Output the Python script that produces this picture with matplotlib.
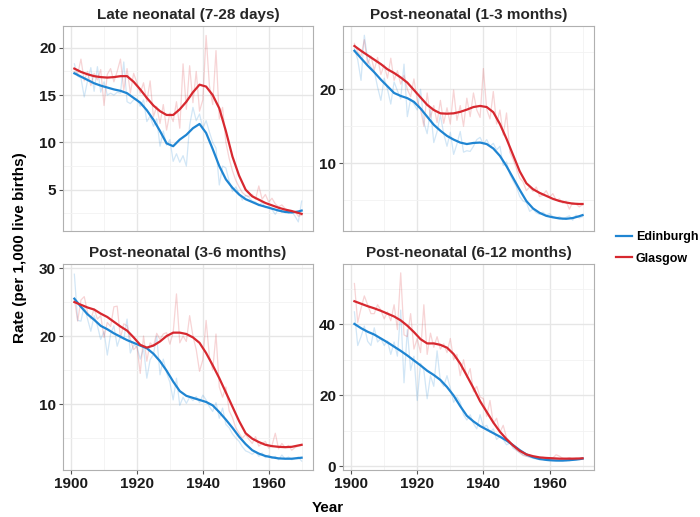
import numpy as np
import matplotlib.pyplot as plt
from matplotlib.ticker import MultipleLocator

plt.rcParams['font.family'] = ['Liberation Sans', 'DejaVu Sans']
plt.rcParams['font.weight'] = 'bold'

# Annual rates per 1,000 live births
years = np.arange(1901, 1971)
# Years at which the fitted (smoothed) trend was read
smooth_years = np.append(np.arange(1901, 1970, 2), 1970)

late_edin = [18.3, 17.0, 16.8, 14.8, 16.5, 17.9, 15.4, 18.0, 15.3, 16.4,
             15.0, 15.2, 15.0, 15.3, 15.2, 18.5, 14.3, 14.1, 14.5, 14.6,
             13.8, 14.5, 12.2, 12.8, 11.7, 12.5, 9.6, 11.2, 9.7, 10.3,
             8.0, 8.8, 7.9, 8.6, 7.5, 11.8, 13.7, 12.3, 13.0, 11.5,
             12.3, 11.1, 10.0, 9.4, 5.5, 7.5, 7.3, 5.9, 4.8, 5.3,
             4.6, 3.9, 4.4, 4.2, 3.8, 3.7, 3.3, 3.7, 3.1, 3.3,
             2.9, 2.4, 3.0, 2.6, 2.9, 2.5, 2.7, 2.2, 1.6, 3.8]
late_glas = [17.5, 17.2, 18.8, 16.5, 17.5, 16.0, 17.3, 16.6, 17.7, 13.9,
             17.2, 17.8, 16.4, 17.5, 18.8, 15.5, 17.8, 15.2, 17.3, 16.3,
             15.2, 16.3, 14.3, 16.5, 12.7, 13.8, 12.0, 14.0, 11.3, 13.1,
             12.2, 14.3, 11.5, 18.3, 13.5, 18.1, 14.2, 17.5, 13.3, 14.5,
             21.3, 16.0, 14.0, 19.7, 12.5, 13.7, 10.0, 8.3, 7.0, 6.0,
             5.3, 4.7, 4.4, 4.3, 4.5, 4.0, 5.4, 4.0, 4.5, 3.7,
             4.1, 3.5, 3.2, 3.4, 3.0, 2.8, 2.6, 2.7, 2.2, 2.3]
late_edin_fit = [17.3, 16.95, 16.6, 16.25, 16.0, 15.8, 15.6, 15.45, 15.2, 14.7, 14.2, 13.4,
                 12.4, 11.2, 9.9, 9.6, 10.3, 10.8, 11.5, 11.95, 11.0, 9.3, 7.5, 6.1,
                 5.2, 4.5, 4.0, 3.7, 3.4, 3.2, 3.0, 2.8, 2.65, 2.6, 2.7, 2.8]
late_glas_fit = [17.8, 17.45, 17.2, 17.0, 16.9, 16.85, 16.9, 17.0, 17.0, 16.4, 15.6, 14.7,
                 13.9, 13.3, 12.9, 12.9, 13.5, 14.3, 15.3, 16.1, 15.9, 15.0, 13.6, 11.2,
                 8.5, 6.5, 5.0, 4.3, 3.95, 3.6, 3.35, 3.1, 2.9, 2.75, 2.55, 2.45]

m1_3_edin = [25.5, 24.0, 21.2, 27.3, 24.0, 23.0, 22.5, 20.3, 18.5, 21.5,
             20.0, 18.0, 21.0, 19.8, 18.7, 23.4, 16.3, 18.7, 18.0, 17.2,
             20.0, 15.5, 14.0, 17.3, 12.8, 14.3, 16.5, 14.0, 12.3, 14.2,
             11.2, 12.6, 14.3, 11.5, 11.7, 11.6, 12.3, 13.2, 13.5, 12.6,
             13.2, 12.3, 12.7, 11.8, 12.3, 9.7, 10.2, 8.5, 7.6, 6.8,
             5.5, 4.9, 4.7, 3.5, 3.8, 3.3, 3.1, 3.4, 3.0, 3.2,
             2.8, 2.6, 2.8, 2.4, 2.7, 2.9, 2.3, 3.0, 2.6, 2.8]
m1_3_glas = [26.2, 25.0, 24.5, 26.7, 23.4, 24.5, 22.6, 24.3, 22.0, 23.3,
             21.5, 24.2, 21.2, 22.5, 20.7, 21.9, 20.0, 19.0, 21.4, 18.5,
             17.3, 15.0, 19.5, 16.2, 17.8, 15.5, 18.5, 15.4, 17.5, 15.3,
             19.9, 15.8, 17.8, 15.0, 18.8, 16.3, 19.5, 17.2, 16.2, 22.8,
             17.3, 16.0, 19.7, 15.3, 17.2, 13.8, 16.8, 11.5, 10.5, 9.3,
             8.0, 7.5, 6.3, 6.8, 6.2, 6.8, 5.5, 5.7, 6.3, 5.4,
             5.9, 5.0, 5.2, 4.6, 4.9, 3.8, 4.7, 4.5, 4.1, 4.4]
m1_3_edin_fit = [25.2, 24.2, 23.2, 22.3, 21.3, 20.4, 19.5, 19.1, 18.8, 18.3, 17.4, 16.3,
                 15.2, 14.4, 13.7, 13.2, 12.8, 12.6, 12.75, 12.8, 12.6, 12.0, 11.0, 9.6,
                 8.0, 6.4, 4.9, 3.9, 3.3, 2.9, 2.7, 2.55, 2.5, 2.6, 2.85, 3.0]
m1_3_glas_fit = [25.85, 25.2, 24.6, 24.0, 23.4, 22.7, 22.2, 21.6, 20.9, 19.9, 18.9, 17.9,
                 17.2, 16.75, 16.7, 16.75, 16.95, 17.25, 17.6, 17.75, 17.6, 16.9, 15.3, 13.3,
                 11.1, 8.9, 7.3, 6.5, 6.0, 5.6, 5.2, 4.9, 4.7, 4.55, 4.5, 4.5]

m3_6_edin = [29.1, 22.3, 22.2, 24.5, 22.5, 20.7, 23.0, 21.5, 19.5, 20.7,
             17.2, 20.3, 21.5, 18.5, 20.0, 19.5, 22.5, 17.5, 18.7, 18.4,
             16.6, 18.2, 13.8, 16.5, 17.3, 20.0, 14.3, 16.6, 14.6, 13.2,
             10.6, 13.8, 9.8, 11.0, 10.1, 11.0, 10.5, 11.1, 10.2, 11.3,
             10.6, 9.6, 8.9, 10.2, 7.9, 9.4, 7.0, 6.5, 5.6, 5.0,
             4.5, 3.7, 3.1, 2.9, 2.6, 3.0, 2.3, 2.8, 2.1, 2.5,
             2.0, 2.3, 1.8, 2.5, 1.9, 2.2, 1.8, 2.0, 2.2, 1.6]
m3_6_glas = [25.5, 22.2, 25.3, 25.8, 23.5, 22.5, 24.0, 22.5, 23.0, 19.8,
             22.0, 21.4, 24.3, 24.4, 19.7, 21.8, 21.5, 19.5, 18.0, 18.5,
             14.5, 20.0, 16.3, 19.0, 18.5, 20.4, 19.5, 20.3, 20.5, 18.8,
             20.5, 26.2, 19.0, 20.0, 19.2, 23.0, 20.0, 18.0, 14.8, 16.5,
             22.3, 17.0, 15.0, 20.3, 12.5, 11.0, 12.5, 9.0, 8.0, 6.5,
             5.7, 5.0, 5.5, 4.8, 4.2, 5.2, 3.8, 4.2, 4.5, 3.5,
             3.9, 5.7, 3.4, 4.2, 3.6, 3.9, 3.2, 3.6, 3.8, 3.9]
m3_6_edin_fit = [25.5, 24.3, 23.2, 22.4, 21.5, 21.0, 20.4, 19.9, 19.4, 19.0, 18.6, 18.2,
                 17.4, 16.3, 14.9, 13.3, 11.9, 11.2, 10.9, 10.6, 10.3, 9.8, 8.8, 7.7,
                 6.5, 5.2, 4.1, 3.2, 2.7, 2.35, 2.15, 2.0, 1.95, 1.95, 2.05, 2.1]
m3_6_glas_fit = [25.0, 24.6, 24.2, 23.9, 23.3, 22.8, 22.1, 21.4, 20.8, 19.8, 18.7, 18.3,
                 18.6, 19.2, 20.0, 20.5, 20.5, 20.3, 19.8, 19.0, 17.5, 15.7, 13.8, 11.7,
                 9.6, 7.5, 5.7, 4.9, 4.4, 4.0, 3.8, 3.7, 3.65, 3.7, 3.9, 4.0]

m6_12_edin = [43.5, 34.0, 36.5, 39.5, 35.2, 34.0, 39.0, 35.0, 36.0, 34.0,
              35.3, 31.5, 35.0, 31.0, 44.0, 23.5, 38.5, 27.0, 31.0, 18.5,
              29.0, 27.0, 19.0, 25.5, 22.5, 32.5, 24.0, 22.5, 25.5, 22.0,
              18.0, 19.5, 18.0, 14.5, 13.0, 14.5, 12.0, 10.5, 14.5, 11.0,
              11.5, 9.5, 10.5, 7.5, 8.5, 7.5, 6.0, 6.5, 5.0, 4.5,
              3.8, 3.2, 2.8, 2.5, 2.2, 2.0, 1.8, 1.9, 1.6, 1.5,
              1.7, 1.4, 1.6, 1.3, 1.8, 1.5, 1.8, 1.7, 2.0, 2.2]
m6_12_glas = [51.5, 40.5, 44.5, 48.0, 45.5, 43.0, 43.0, 45.5, 44.0, 41.5,
              43.5, 41.0, 45.5, 38.5, 54.5, 37.0, 36.5, 43.0, 33.0, 36.0,
              32.0, 45.5, 31.5, 37.5, 33.5, 36.5, 33.0, 34.5, 32.0, 36.0,
              30.0, 31.5, 25.5, 30.0, 25.0, 27.5, 21.0, 22.5, 19.5, 19.0,
              14.0, 18.5, 12.0, 13.5, 9.5, 11.5, 8.0, 7.0, 5.5, 4.5,
              3.8, 3.0, 2.8, 2.6, 2.5, 2.3, 2.2, 2.5, 2.1, 2.0,
              2.3, 3.2, 2.8, 2.2, 2.0, 2.4, 1.9, 2.2, 2.0, 2.3]
m6_12_edin_fit = [40.1, 38.9, 37.9, 37.1, 36.0, 34.9, 33.7, 32.5, 31.2, 29.8, 28.4, 26.9,
                  25.7, 24.3, 22.3, 19.9, 16.9, 14.2, 12.6, 11.3, 10.3, 9.3, 8.3, 7.2,
                  5.9, 4.5, 3.3, 2.5, 2.0, 1.75, 1.6, 1.55, 1.6, 1.75, 1.95, 2.1]
m6_12_glas_fit = [46.5, 45.8, 45.1, 44.5, 43.8, 43.0, 42.2, 41.1, 39.6, 37.8, 35.8, 34.6,
                  34.6, 34.2, 33.4, 31.6, 28.9, 25.5, 22.0, 18.3, 15.3, 12.3, 9.7, 7.6,
                  5.8, 4.3, 3.3, 2.8, 2.45, 2.3, 2.2, 2.1, 2.1, 2.1, 2.15, 2.2]

titles = ["Late neonatal (7-28 days)", "Post-neonatal (1-3 months)",
          "Post-neonatal (3-6 months)", "Post-neonatal (6-12 months)"]

edin_color = '#1f85d2'
glas_color = '#d7282f'

W, H = 700, 517
fig = plt.figure(figsize=(W / 100, H / 100), dpi=100)


def add_panel(x0, y0, x1, y1):
    return fig.add_axes([x0 / W, 1 - y1 / H, (x1 - x0) / W, (y1 - y0) / H])


boxes = [(63, 26, 313, 231), (343, 26, 594, 231),
         (63, 264, 313, 470), (343, 264, 594, 470)]
raw = [(late_edin, late_glas), (m1_3_edin, m1_3_glas),
       (m3_6_edin, m3_6_glas), (m6_12_edin, m6_12_glas)]
fits = [(late_edin_fit, late_glas_fit), (m1_3_edin_fit, m1_3_glas_fit),
        (m3_6_edin_fit, m3_6_glas_fit), (m6_12_edin_fit, m6_12_glas_fit)]
ylims = [(0.64, 22.3), (0.85, 28.55), (0.29, 30.6), (-1.1, 57)]
ysteps = [5, 10, 10, 20]

handles = []
for i in range(4):
    ax = add_panel(*boxes[i])
    (re, rg), (fe, fg) = raw[i], fits[i]
    ax.plot(years, re, color=edin_color, lw=0.9, alpha=0.2)
    ax.plot(years, rg, color=glas_color, lw=0.9, alpha=0.2)
    le, = ax.plot(smooth_years, fe, color=edin_color, lw=1.6,
                  solid_joinstyle='round')
    lg, = ax.plot(smooth_years, fg, color=glas_color, lw=1.6,
                  solid_joinstyle='round')
    if i == 0:
        handles = [le, lg]

    ax.set_xlim(1897.55, 1973.45)
    ax.set_ylim(*ylims[i])
    ax.xaxis.set_major_locator(MultipleLocator(20))
    ax.xaxis.set_minor_locator(MultipleLocator(10))
    ax.yaxis.set_major_locator(MultipleLocator(ysteps[i]))
    ax.yaxis.set_minor_locator(MultipleLocator(ysteps[i] / 2))
    ax.grid(which='major', color='#e6e6e6', lw=1.0)
    ax.grid(which='minor', color='#f2f2f2', lw=0.6)
    ax.set_axisbelow(True)
    for s in ax.spines.values():
        s.set_color('#b0b0b0')
        s.set_linewidth(0.8)
    ax.tick_params(which='minor', length=0)
    ax.tick_params(which='major', length=3, color='#555555', labelsize=11,
                   labelcolor='#1a1a1a', pad=2)
    if i < 2:
        ax.tick_params(axis='x', which='both', length=0, labelbottom=False)
    ax.set_title(titles[i], fontsize=11, fontweight='bold', color='#262626', pad=5)

fig.text(20 / W, 1 - 248 / H, "Rate (per 1,000 live births)", rotation=90,
         ha='center', va='center', fontsize=11, fontweight='bold')
fig.text(328 / W, 1 - 508 / H, "Year", ha='center', va='center',
         fontsize=11, fontweight='bold')

fig.legend(handles, ["Edinburgh", "Glasgow"], loc='center left',
           bbox_to_anchor=(616 / W, 1 - 248 / H), frameon=False, fontsize=9,
           handlelength=1.3, handletextpad=0.3, labelspacing=0.75,
           borderpad=0, borderaxespad=0)

fig.savefig("out.png", dpi=100)
